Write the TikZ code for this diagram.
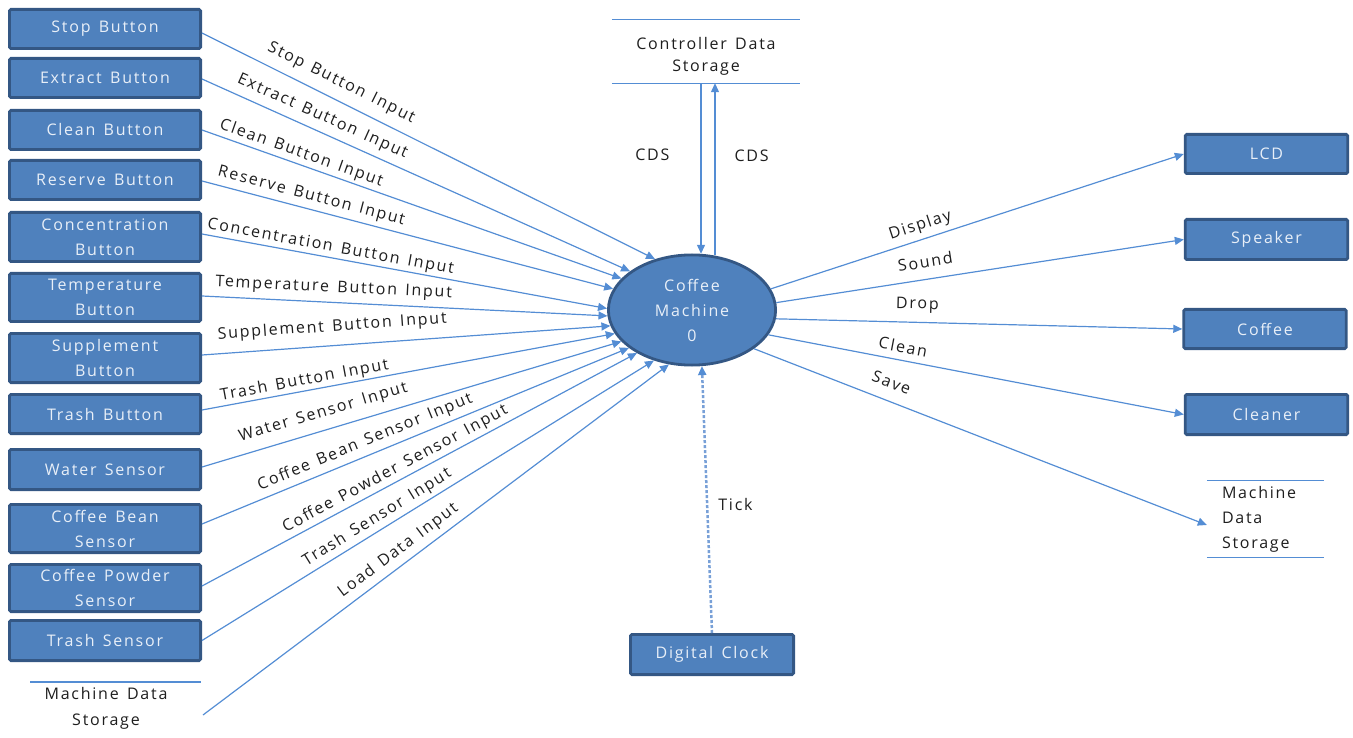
\documentclass[tikz,border=0pt]{standalone}
\usepackage{fontspec}
\setmainfont{Open Sans}[LetterSpace=11,WordSpace=1.4]
\usetikzlibrary{shapes.geometric,arrows.meta}
\definecolor{boxfill}{RGB}{79,129,189}
\definecolor{boxline}{RGB}{52,87,132}
\definecolor{boxtext}{RGB}{232,239,248}
\definecolor{conn}{RGB}{84,141,212}
\definecolor{tickcol}{RGB}{120,160,215}
\definecolor{lbl}{RGB}{30,30,30}
\tikzset{
  ent/.style={draw=boxline, fill=boxfill, line width=2.8pt, rounded corners=1.5pt,
    minimum width=191.2pt, text=boxtext, font=\fontsize{16}{25}\selectfont,
    align=center, inner sep=0pt},
  proc/.style={ellipse, draw=boxline, fill=boxfill, line width=2.8pt,
    minimum width=167.2pt, minimum height=110.2pt, text=boxtext,
    font=\fontsize{16}{25}\selectfont, align=center, inner sep=0pt},
  flow/.style={draw=conn, line width=1.2pt, -{Triangle[length=9pt,width=8pt]}},
  tickflow/.style={draw=tickcol, dash pattern=on 3pt off 2pt, line width=2.5pt,
    -{Triangle[length=9pt,width=8pt,color=conn]}},
  lab/.style={font=\fontsize{16}{19}\selectfont, text=lbl, inner sep=0pt, sloped},
  lab0/.style={font=\fontsize{16}{19}\selectfont, text=lbl, inner sep=0pt},
  store/.style={font=\fontsize{16}{22}\selectfont, text=lbl, align=center, inner sep=0pt},
  storeline/.style={draw=conn, line width=1.1pt}
}
\begin{document}
\begin{tikzpicture}[x=1pt,y=-1pt]
\useasboundingbox (0,0) rectangle (1353,738);
% left entities
\node[ent, minimum height=39.2pt] (stop)    at (105,29)    {Stop Button};
\node[ent, minimum height=39.2pt] (extract) at (105,78)    {Extract Button};
\node[ent, minimum height=39.2pt] (clean)   at (105,130)   {Clean Button};
\node[ent, minimum height=39.2pt] (reserve) at (105,180)   {Reserve Button};
\node[ent, minimum height=49.2pt] (conc)    at (105,237)   {Concentration\\Button};
\node[ent, minimum height=48.2pt] (temp)    at (105,297.5) {Temperature\\Button};
\node[ent, minimum height=49.2pt] (supp)    at (105,358)   {Supplement\\Button};
\node[ent, minimum height=39.2pt] (trashb)  at (105,414)   {Trash Button};
\node[ent, minimum height=40.2pt] (water)   at (105,469.5) {Water Sensor};
\node[ent, minimum height=48.2pt] (bean)    at (105,528.5) {Coffee Bean\\Sensor};
\node[ent, minimum height=47.2pt] (powder)  at (105,588)   {Coffee Powder\\Sensor};
\node[ent, minimum height=40.2pt] (trashs)  at (105,640.5) {Trash Sensor};
% left storage
\node[store, font=\fontsize{16}{26}\selectfont] (mdsL) at (106,708) {Machine Data\\Storage};
\coordinate (mdsLa) at (30,682);
\coordinate (mdsLb) at (201,682);
\coordinate (mdsLo) at (203,715);
\draw[storeline] (mdsLa) -- (mdsLb);
% process
\node[proc] (cm) at (692,310) {Coffee\\Machine\\0};
% top storage
\node[store, minimum width=188pt, minimum height=63pt] (st) at (706,56.5) {Controller Data\\Storage};
\draw[storeline] ([yshift=5pt]st.north west) -- ([yshift=5pt]st.north east);
\draw[storeline] ([yshift=5pt]st.south west) -- ([yshift=5pt]st.south east);
% right entities
\node[ent, minimum width=162.6pt, minimum height=39.2pt] (lcd)     at (1266.5,154)   {LCD};
\node[ent, minimum width=162.6pt, minimum height=40.2pt] (speaker) at (1266.5,239.5) {Speaker};
\node[ent, minimum width=162.6pt, minimum height=39.2pt] (coffee)  at (1265,329)     {Coffee};
\node[ent, minimum width=162.6pt, minimum height=40.2pt] (cleaner) at (1266.5,414.5) {Cleaner};
% right storage
\node[store, align=left, text width=87pt, inner xsep=15pt, inner ysep=0pt,
      minimum height=76pt, font=\fontsize{16}{25}\selectfont] (mdsR) at (1265.5,519) {Machine\\Data\\Storage};
\draw[storeline] (mdsR.north west) -- (mdsR.north east);
\draw[storeline] (mdsR.south west) -- (mdsR.south east);
% clock
\node[ent, minimum width=163.2pt, minimum height=40.2pt] (clock) at (712,654.5) {Digital Clock};
% input flows
\draw[flow] ([yshift=-4pt]stop.east) -- node[lab,pos=.29,above=9pt]{Stop Button Input} (cm.126);
\draw[flow] ([yshift=-1pt]extract.east) -- node[lab,pos=.267,above=6.5pt]{Extract Button Input} (cm.148);
\draw[flow] (clean.east) -- node[lab,pos=.228,above=2.5pt]{Clean Button Input} (cm.156);
\draw[flow] ([yshift=-1pt]reserve.east) -- node[lab,pos=.258,above=4.4pt]{Reserve Button Input} (cm.165);
\draw[flow] ([yshift=3pt]conc.east) -- node[lab,pos=.313,above=1.7pt]{Concentration Button Input} (cm.179);
\draw[flow] ([yshift=1.5pt]temp.east) -- node[lab,pos=.323,above=6pt]{Temperature Button Input} (cm.184);
\draw[flow] ([yshift=3pt]supp.east) -- node[lab,pos=.322,above=10pt]{Supplement Button Input} (cm.191);
\draw[flow] ([yshift=4pt]trashb.east) -- node[lab,pos=.253,above=1.6pt]{Trash Button Input} (cm.197);
\draw[flow] ([yshift=2.5pt]water.east) -- node[lab,pos=.301,above=8.8pt]{Water Sensor Input} (cm.204);
\draw[flow] ([yshift=4.5pt]bean.east) -- node[lab,pos=.394,above=4.8pt]{Coffee Bean Sensor Input} (cm.211);
\draw[flow] ([yshift=2pt]powder.east) -- node[lab,pos=.457,above=3pt]{Coffee Powder Sensor Input} (cm.218);
\draw[flow] (trashs.east) -- node[lab,pos=.402,above=3.7pt]{Trash Sensor Input} (cm.233);
\draw[flow] (mdsLo) -- node[lab,pos=.437,above=5.3pt]{Load Data Input} (cm.247);
% storage flows
\draw[flow] ([xshift=-5pt,yshift=5pt]st.south) -- node[lab0,pos=.42,left=31pt]{CDS} ([xshift=-5pt]st.south |- cm.81);
\draw[flow] ([xshift=9pt]st.south |- cm.68) -- node[lab0,pos=.58,right=19pt]{CDS} ([xshift=9pt,yshift=5pt]st.south);
% output flows
\draw[flow] (cm.15) -- node[lab,pos=.372,above=5pt]{Display} (lcd.west);
\draw[flow] (cm.5) -- node[lab,pos=.372,above=11pt]{Sound} (speaker.west);
\draw[flow] (cm.354) -- node[lab,pos=.347,above=9pt]{Drop} (coffee.west);
\draw[flow] (cm.342) -- node[lab,pos=.318,above=7pt]{Clean} (cleaner.west);
\draw[flow] (cm.328) -- node[lab,pos=.289,above=12pt]{Save} ([yshift=-6pt]mdsR.west);
% clock flow
\draw[tickflow] (clock.north) -- node[lab0,pos=.48,right=10pt]{Tick} (cm.280);
\end{tikzpicture}
\end{document}
